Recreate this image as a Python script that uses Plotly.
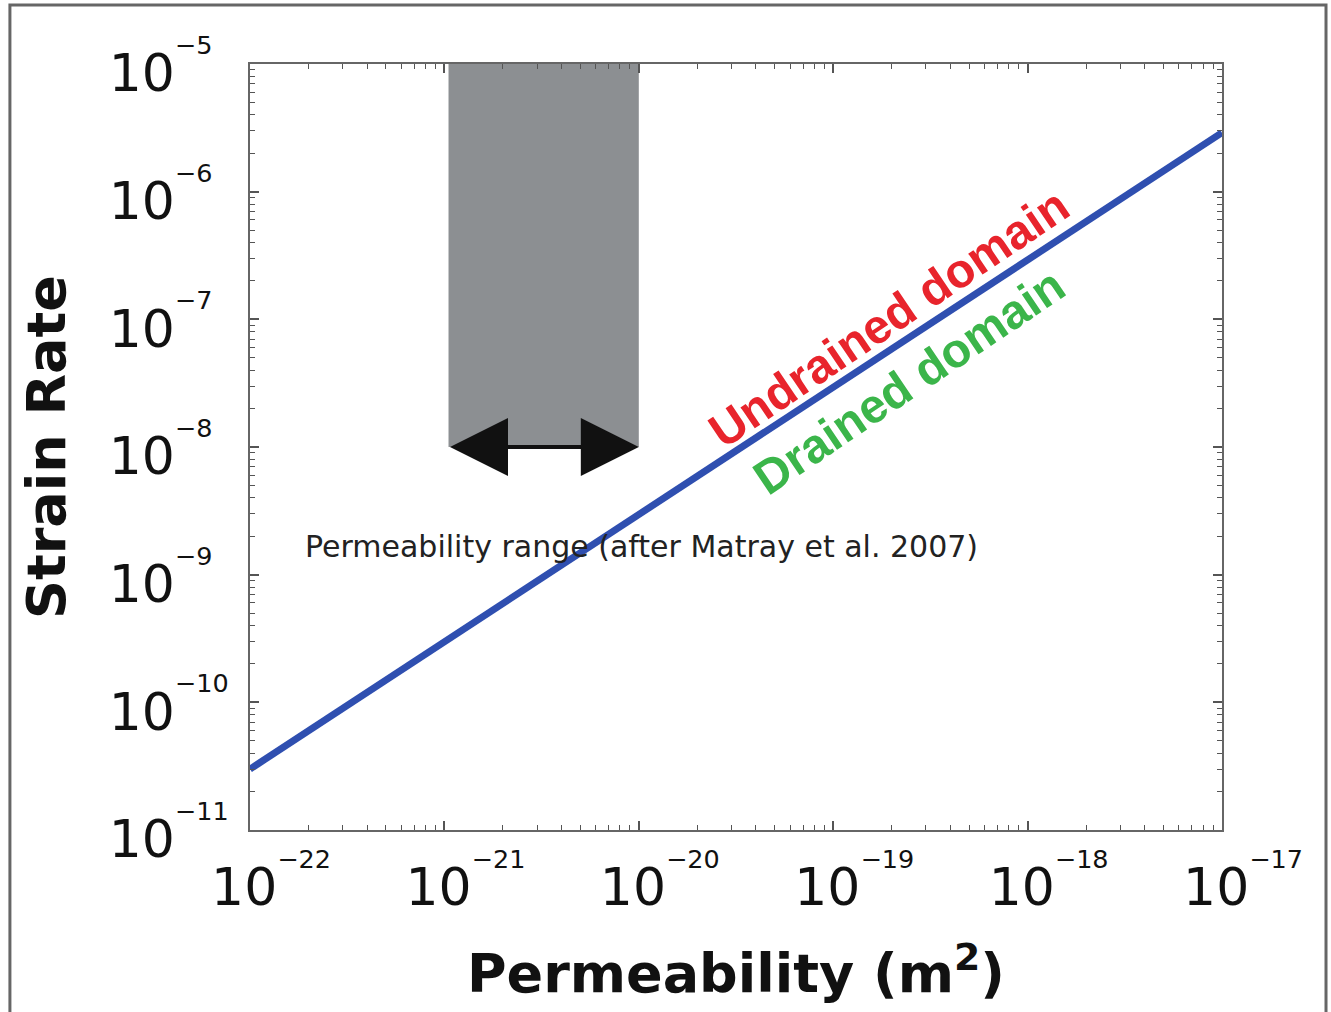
import math
import plotly.graph_objects as go

# ---- data ----
permeability = [1e-22, 1e-17]          # m^2
strain_rate = [3.0e-11, 2.9e-6]        # s^-1

range_perm = [1.05e-21, 1e-20]         # Matray et al. 2007 range
range_strain = [1e-8, 1e-5]            # vertical extent of grey band
arrow_strain = 1e-8                    # height of the double arrow

x_exponents = [-22, -21, -20, -19, -18, -17]
y_exponents = [-11, -10, -9, -8, -7, -6, -5]
minor_mult = [2, 3, 4, 5, 6, 7, 8, 9]

range_label = "Permeability range (after Matray et al. 2007)"
undrained_label = "Undrained domain"
drained_label = "Drained domain"
x_title = "Permeability (m<sup>2</sup>)"
y_title = "Strain Rate"

FONT = "DejaVu Sans"


def tick_text(e, pad=0):
    return "10<sup><sup>\u2212%d%s</sup></sup>" % (abs(e), "\u2007" * pad)


def minor_vals(exps):
    return [m * 10.0 ** e for e in exps[:-1] for m in minor_mult]


fig = go.Figure()

fig.add_trace(go.Scatter(
    x=permeability, y=strain_rate, mode="lines",
    line=dict(color="#2f4fb0", width=7), showlegend=False, hoverinfo="skip"))

# grey permeability band
fig.add_shape(type="rect", xref="x", yref="y",
              x0=range_perm[0], x1=range_perm[1],
              y0=range_strain[0], y1=range_strain[1],
              fillcolor="#8c8f92", line=dict(width=0), layer="below")

# double-headed arrow
fig.add_annotation(
    x=math.log10(range_perm[1]), y=math.log10(arrow_strain),
    ax=math.log10(range_perm[0]), ay=math.log10(arrow_strain),
    xref="x", yref="y", axref="x", ayref="y",
    text="", showarrow=True, arrowside="end+start",
    arrowhead=2, startarrowhead=2, arrowsize=2.9, startarrowsize=2.9,
    arrowwidth=4, arrowcolor="#111111", standoff=0, startstandoff=0,
    font=dict(size=1))

fig.add_annotation(
    x=-21.727, y=-8.783, xref="x", yref="y", text=range_label,
    showarrow=False, xanchor="left", yanchor="middle",
    font=dict(family=FONT, size=30, color="#222222"))

fig.add_annotation(
    x=-18.718, y=-6.99, xref="x", yref="y", text=undrained_label,
    showarrow=False, xanchor="center", yanchor="middle", textangle=-34,
    font=dict(family="Liberation Sans", size=48, color="#e8242c", weight="bold"))

fig.add_annotation(
    x=-18.61, y=-7.49, xref="x", yref="y", text=drained_label,
    showarrow=False, xanchor="center", yanchor="middle", textangle=-34,
    font=dict(family="Liberation Sans", size=48, color="#3bb54a", weight="bold"))

# outer frame of the figure
fig.add_shape(type="rect", xref="paper", yref="paper",
              x0=-0.247, x1=1.107, y0=-0.26, y1=1.077,
              line=dict(color="#666666", width=3), fillcolor="rgba(0,0,0,0)")

axis_common = dict(
    type="log", showgrid=False, zeroline=False,
    showline=True, linecolor="#666666", linewidth=2, mirror="ticks",
    ticks="inside", ticklen=9, tickwidth=1.5, tickcolor="#555555",
    tickfont=dict(family=FONT, size=52, color="#111111"),
    ticklabeloverflow="allow",
    automargin=False,
)

ymax_digits = max(len(str(abs(e))) for e in y_exponents)

fig.update_layout(
    template="none",
    width=1331, height=1012, autosize=False,
    margin=dict(l=250, r=109, t=64, b=182, pad=0),
    paper_bgcolor="white", plot_bgcolor="white",
    showlegend=False,
    xaxis=dict(
        axis_common, range=[-22, -17], tickmode="array",
        tickvals=[10.0 ** e for e in x_exponents],
        ticktext=[tick_text(e) for e in x_exponents],
        ticklabelshift=21, ticklabelstandoff=11,
        minor=dict(tickvals=minor_vals(x_exponents), ticks="inside",
                   ticklen=5, tickwidth=1, tickcolor="#555555", showgrid=False),
        title=dict(text=x_title, standoff=38,
                   font=dict(family=FONT, size=54, color="#111111", weight="bold")),
    ),
    yaxis=dict(
        axis_common, range=[-11, -5], tickmode="array",
        tickvals=[10.0 ** e for e in y_exponents],
        ticktext=[tick_text(e, ymax_digits - len(str(abs(e)))) for e in y_exponents],
        ticklabelshift=9, ticklabelstandoff=9,
        minor=dict(tickvals=minor_vals(y_exponents), ticks="inside",
                   ticklen=5, tickwidth=1, tickcolor="#555555", showgrid=False),
        title=dict(text=y_title, standoff=26,
                   font=dict(family=FONT, size=54, color="#111111", weight="bold")),
    ),
)

fig.write_html("out.html")
